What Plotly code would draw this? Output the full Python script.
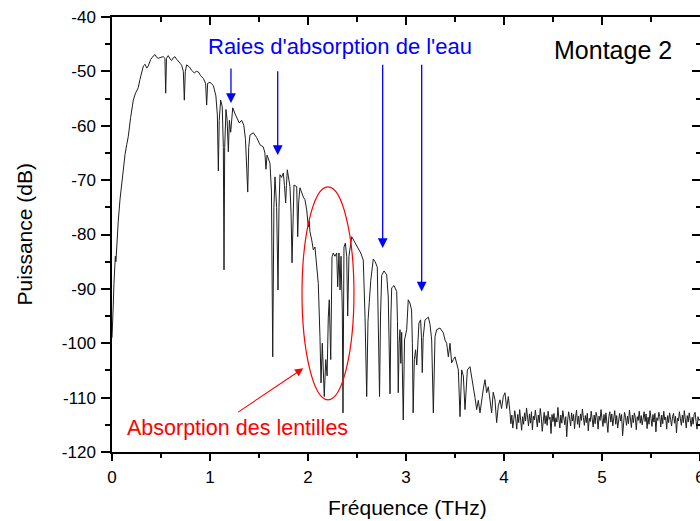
import numpy as np
import plotly.graph_objects as go

# spectrum (THz, dB)
freq_thz = [
    0.000, 0.008, 0.013, 0.020, 0.028, 0.034, 0.040, 0.046, 0.055, 0.064,
    0.082, 0.099, 0.115, 0.133, 0.150, 0.166, 0.190, 0.217, 0.240, 0.268,
    0.285, 0.303, 0.320, 0.337, 0.355, 0.370, 0.395, 0.420, 0.439, 0.455,
    0.472, 0.500, 0.523, 0.540, 0.548, 0.556, 0.574, 0.592, 0.609, 0.625,
    0.643, 0.660, 0.677, 0.695, 0.711, 0.728, 0.738, 0.748, 0.762, 0.790,
    0.813, 0.840, 0.860, 0.881, 0.905, 0.932, 0.955, 0.966, 0.976, 1.000,
    1.034, 1.060, 1.075, 1.085, 1.094, 1.109, 1.125, 1.136, 1.143, 1.150,
    1.163, 1.175, 1.187, 1.198, 1.211, 1.222, 1.232, 1.255, 1.272, 1.299,
    1.323, 1.345, 1.362, 1.385, 1.395, 1.408, 1.442, 1.477, 1.510, 1.544,
    1.560, 1.571, 1.582, 1.612, 1.627, 1.640, 1.652, 1.663, 1.680, 1.694,
    1.704, 1.714, 1.730, 1.748, 1.760, 1.772, 1.780, 1.789, 1.816, 1.827,
    1.837, 1.847, 1.857, 1.885, 1.890, 1.895, 1.905, 1.918, 1.952, 1.969,
    1.987, 2.003, 2.012, 2.020, 2.038, 2.054, 2.071, 2.089, 2.105, 2.122,
    2.133, 2.146, 2.155, 2.166, 2.181, 2.195, 2.207, 2.217, 2.232, 2.245,
    2.258, 2.275, 2.293, 2.303, 2.316, 2.327, 2.337, 2.350, 2.357, 2.362,
    2.367, 2.381, 2.395, 2.405, 2.418, 2.446, 2.480, 2.513, 2.538, 2.564,
    2.582, 2.599, 2.612, 2.625, 2.640, 2.666, 2.685, 2.707, 2.718, 2.730,
    2.740, 2.752, 2.776, 2.803, 2.819, 2.837, 2.846, 2.854, 2.878, 2.905,
    2.913, 2.921, 2.930, 2.939, 2.947, 2.956, 2.972, 2.985, 3.007, 3.023,
    3.040, 3.057, 3.065, 3.073, 3.085, 3.098, 3.110, 3.132, 3.149, 3.158,
    3.166, 3.175, 3.194, 3.228, 3.245, 3.262, 3.279, 3.296, 3.313, 3.347,
    3.381, 3.398, 3.415, 3.432, 3.449, 3.466, 3.483, 3.500, 3.534, 3.551,
    3.568, 3.585, 3.602, 3.626, 3.653, 3.670, 3.687, 3.704, 3.721, 3.738,
    3.755, 3.772, 3.789, 3.806, 3.823, 3.840, 3.857, 3.874, 3.890, 3.908,
    3.925, 3.942, 3.959, 3.975, 3.993, 4.010, 4.027, 4.044,
]
power_db = [
    -99.0, -96.5, -93.0, -89.0, -86.0, -84.0, -85.0, -83.0, -79.5, -77.5,
    -73.5, -70.5, -67.5, -65.3, -63.5, -62.0, -58.5, -55.3, -54.0, -53.0,
    -51.5, -50.0, -49.0, -48.7, -49.4, -49.0, -47.8, -47.2, -46.9, -47.4,
    -47.6, -47.4, -47.3, -47.6, -54.0, -47.6, -47.1, -47.7, -48.0, -47.5,
    -47.3, -47.8, -48.1, -48.5, -48.9, -50.0, -55.3, -50.0, -48.8, -49.2,
    -49.8, -50.3, -50.0, -50.1, -50.8, -51.3, -52.2, -56.2, -52.2, -52.0,
    -52.6, -54.5, -58.0, -68.3, -59.0, -55.3, -56.5, -64.0, -86.5, -64.0,
    -57.0, -59.0, -64.8, -59.0, -61.2, -57.5, -56.7, -57.8, -58.6, -59.5,
    -59.0, -59.9, -62.5, -72.2, -64.0, -61.7, -61.3, -62.2, -63.5, -63.9,
    -65.0, -68.0, -65.4, -66.9, -72.0, -102.5, -75.0, -69.4, -75.0, -90.2,
    -75.0, -69.0, -69.5, -68.7, -71.0, -74.2, -71.0, -68.1, -71.2, -76.0,
    -85.2, -76.0, -70.9, -71.2, -74.0, -80.4, -74.0, -71.4, -73.1, -73.6,
    -75.5, -78.6, -77.5, -79.5, -81.0, -82.8, -82.3, -85.2, -89.0, -98.8,
    -107.3, -100.0, -105.0, -109.8, -103.0, -106.0, -95.2, -92.0, -103.0, -84.1,
    -83.4, -84.0, -83.4, -89.6, -83.4, -90.2, -84.0, -93.9, -112.8, -90.0,
    -82.3, -81.6, -84.0, -95.0, -84.0, -80.4, -81.5, -82.5, -83.4, -84.7,
    -95.2, -109.8, -96.0, -92.5, -88.5, -84.5, -85.0, -86.0, -95.0, -109.8,
    -95.0, -87.5, -86.7, -87.4, -91.5, -109.3, -95.0, -89.8, -89.4, -90.5,
    -96.0, -109.1, -100.0, -97.5, -103.7, -98.0, -114.1, -99.4, -97.5, -92.0,
    -92.6, -93.9, -100.0, -112.8, -103.0, -101.2, -104.0, -96.3, -95.7, -99.0,
    -105.4, -99.0, -95.7, -95.2, -96.5, -99.4, -112.8, -98.8, -97.5, -97.2,
    -98.1, -99.4, -100.0, -102.5, -100.0, -103.6, -103.0, -102.5, -104.9, -113.5,
    -104.9, -106.0, -112.2, -104.9, -104.3, -106.2, -107.3, -110.0, -112.2, -110.5,
    -112.8, -110.0, -108.4, -106.7, -109.1, -108.0, -110.0, -112.8, -109.0, -110.4,
    -114.6, -111.5, -110.4, -112.0, -109.8, -109.1, -112.0, -109.8,
]

# noise floor, 4.06 to 6.00 THz every 0.01 THz
noise_db = [
    -112.5, -114.8, -113.2, -115.6, -114.0, -112.4, -113.9, -115.8, -113.1, -114.6, -112.2, -113.7, -116.0, -113.5, -114.9,
    -112.8, -114.3, -111.9, -113.6, -115.2, -113.0, -114.7, -112.6, -115.9, -113.4, -114.1, -112.3, -113.8, -115.4, -113.2,
    -114.6, -112.0, -113.5, -116.2, -113.9, -112.7, -114.8, -113.3, -115.1, -112.5, -114.0, -113.6, -116.6, -113.1, -114.4,
    -112.9, -115.3, -113.7, -114.5, -111.8, -113.9, -115.6, -113.2, -114.7, -112.4, -113.8, -115.0, -113.5, -117.2, -114.1,
    -112.6, -113.9, -115.2, -112.8, -114.3, -113.1, -115.7, -113.6, -112.3, -114.9, -113.4, -115.5, -113.0, -114.2, -112.1,
    -113.7, -115.1, -113.3, -114.6, -112.9, -116.1, -113.8, -114.4, -112.5, -113.9, -115.4, -113.2, -114.8, -112.7, -113.6,
    -115.8, -113.4, -114.2, -112.2, -113.9, -115.3, -113.1, -114.7, -112.8, -114.1, -116.4, -113.5, -112.6, -114.5, -113.0,
    -115.2, -113.8, -112.4, -114.9, -113.3, -115.6, -113.7, -112.9, -114.3, -113.1, -117.0, -114.0, -112.7, -113.6, -115.1,
    -113.4, -114.8, -112.3, -113.9, -115.5, -113.2, -114.6, -112.8, -113.7, -115.9, -113.5, -114.2, -112.5, -114.7, -113.3,
    -115.0, -113.8, -112.6, -114.4, -113.0, -115.7, -113.6, -114.9, -112.4, -113.8, -115.3, -113.1, -114.5, -112.9, -116.3,
    -113.7, -114.2, -112.7, -113.5, -115.4, -113.2, -114.8, -112.5, -114.1, -113.6, -115.8, -113.3, -114.6, -112.8, -114.0,
    -115.2, -113.5, -112.9, -114.7, -113.4, -116.5, -113.8, -114.3, -112.6, -113.9, -115.1, -113.2, -114.6, -112.4, -113.7,
    -115.6, -113.3, -114.5, -112.8, -114.0, -115.3, -113.6, -114.9, -113.1, -112.7, -114.4, -115.8, -113.5, -114.2, -113.9,
]
noise_freq = np.linspace(4.06, 6.00, len(noise_db))

x_ticks = [0, 1, 2, 3, 4, 5, 6]
x_tick_labels = ["0", "1", "2", "3", "4", "5", "6"]
y_ticks = [-120, -110, -100, -90, -80, -70, -60, -50, -40]
y_tick_labels = ["-120", "-110", "-100", "-90", "-80", "-70", "-60", "-50", "-40"]

font_family = "Liberation Sans, Arial, sans-serif"

fig = go.Figure()
fig.add_trace(go.Scatter(
    x=list(freq_thz) + list(noise_freq),
    y=list(power_db) + list(noise_db),
    mode="lines",
    line=dict(color="#1e1e1e", width=1),
    showlegend=False,
    hoverinfo="skip",
))
# empty trace so the top/right tick axes get drawn
fig.add_trace(go.Scatter(x=[], y=[], xaxis="x2", yaxis="y2", showlegend=False))

tick_font = dict(family=font_family, size=17, color="black")

fig.update_layout(
    width=700, height=521,
    margin=dict(l=112, r=0, t=17, b=69),
    plot_bgcolor="white", paper_bgcolor="white",
    font=dict(family=font_family, color="black"),
    xaxis=dict(
        range=[0, 6], tickvals=x_ticks, ticktext=x_tick_labels, ticks="outside",
        ticklen=7, tickwidth=1.5, tickcolor="black", showline=True, linewidth=1.5,
        linecolor="black", mirror=True, showgrid=False, zeroline=False,
        tickfont=tick_font, automargin=False, ticklabelstandoff=2,
        ticklabeloverflow="allow",
        minor=dict(ticks="outside", dtick=0.5, tick0=0, ticklen=4, tickwidth=1.5,
                   tickcolor="black", showgrid=False),
    ),
    yaxis=dict(
        range=[-120, -40], tickvals=y_ticks, ticktext=y_tick_labels, ticks="outside",
        ticklen=9, tickwidth=1.5, tickcolor="black", showline=True, linewidth=1.5,
        linecolor="black", mirror=True, showgrid=False, zeroline=False,
        tickfont=tick_font, automargin=False, ticklabelstandoff=2,
        minor=dict(ticks="outside", dtick=5, tick0=-120, ticklen=5, tickwidth=1.5,
                   tickcolor="black", showgrid=False),
    ),
    xaxis2=dict(
        overlaying="x", side="top", range=[0, 6], tickvals=x_ticks, ticks="inside",
        ticklen=8, tickwidth=1.5, tickcolor="black", showticklabels=False,
        showgrid=False, zeroline=False, showline=False, automargin=False,
        minor=dict(ticks="inside", dtick=0.5, tick0=0, ticklen=5, tickwidth=1.5,
                   tickcolor="black", showgrid=False),
    ),
    yaxis2=dict(
        overlaying="y", side="right", range=[-120, -40], tickvals=y_ticks, ticks="inside",
        ticklen=8, tickwidth=1.5, tickcolor="black", showticklabels=False,
        showgrid=False, zeroline=False, showline=False, automargin=False,
        minor=dict(ticks="inside", dtick=5, tick0=-120, ticklen=4, tickwidth=1.5,
                   tickcolor="black", showgrid=False),
    ),
)

# axis titles
fig.add_annotation(text="Fréquence (THz)", xref="paper", yref="paper", x=0.502, y=-0.128,
                   xanchor="center", yanchor="middle", showarrow=False,
                   font=dict(size=21, color="black"))
fig.add_annotation(text="Puissance (dB)", xref="paper", yref="paper", x=-0.148, y=0.5,
                   xanchor="center", yanchor="middle", textangle=-90, showarrow=False,
                   font=dict(size=21, color="black"))

# labels
fig.add_annotation(text="Raies d'absorption de l'eau", x=2.327, y=-45.5, showarrow=False,
                   font=dict(size=22, color="#0000ff"))
fig.add_annotation(text="Montage 2", x=5.11, y=-46.1, showarrow=False,
                   font=dict(size=25, color="black"))
fig.add_annotation(text="Absorption des lentilles", x=1.276, y=-115.5, showarrow=False,
                   font=dict(size=21.5, color="#ff0000"))

# blue arrows pointing at water lines
for ax_x, tail_y, tip_y in [(1.214, -49.2, -55.8), (1.691, -49.7, -65.4),
                            (2.762, -48.5, -82.5), (3.160, -48.5, -90.5)]:
    fig.add_annotation(x=ax_x, y=tip_y, ax=ax_x, ay=tail_y, axref="x", ayref="y",
                       text="", showarrow=True, arrowhead=2, arrowsize=1.5,
                       arrowwidth=1.3, arrowcolor="#0000ff")

# red arrow to the lens absorption region
fig.add_annotation(x=1.952, y=-104.6, ax=1.272, ay=-112.85, axref="x", ayref="y",
                   text="", showarrow=True, arrowhead=2, arrowsize=1.5,
                   arrowwidth=1.1, arrowcolor="#ff0000")

fig.add_shape(type="circle", xref="x", yref="y", x0=1.939, x1=2.469, y0=-110.4, y1=-71.25,
              line=dict(color="#ff0000", width=1.2))

fig.write_html("out.html", config={"displayModeBar": False},
               post_script="document.body.style.margin='0';")
